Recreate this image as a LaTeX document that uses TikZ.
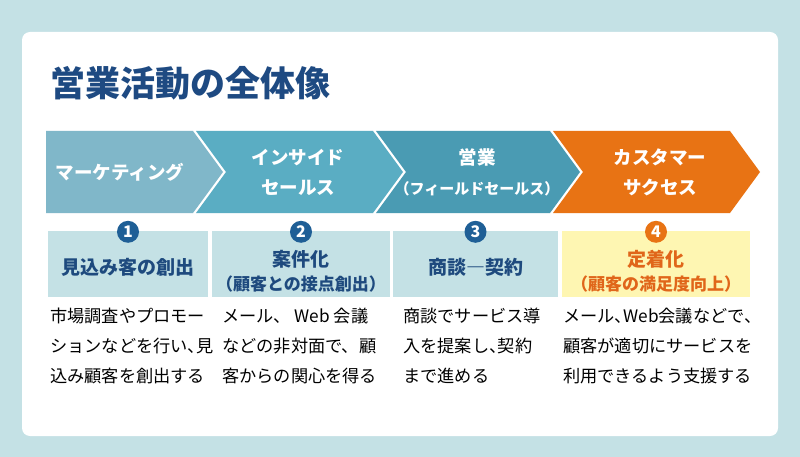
\documentclass[tikz,border=0pt]{standalone}
\usepackage{fontspec}
\setmainfont{Noto Sans CJK JP}
\usetikzlibrary{calc}

\definecolor{bgteal}{HTML}{C4E1E5}
\definecolor{titleblue}{HTML}{1E4A82}
\definecolor{chevA}{HTML}{80B7C9}
\definecolor{chevB}{HTML}{5AADC3}
\definecolor{chevC}{HTML}{4A9BB3}
\definecolor{chevD}{HTML}{E87314}
\definecolor{numblue}{HTML}{1F5F96}
\definecolor{boxblue}{HTML}{C4E1E5}
\definecolor{boxyellow}{HTML}{FEF6B2}
\definecolor{goalblue}{HTML}{1E4A7E}
\definecolor{goalorange}{HTML}{E0661A}

% half-width comma
\newcommand{\hcomma}{\makebox[0.5em][l]{、}}

\begin{document}
\begin{tikzpicture}[x=1pt,y=-1pt,
	stage/.style={text=white, inner sep=0pt, align=center, font=\fontsize{18.5}{30}\selectfont\bfseries},
	stepnum/.style={circle, fill=#1, text=white, minimum size=22pt, inner sep=0pt, font=\fontsize{16}{16}\selectfont\bfseries},
	stepbox/.style={fill=#1, minimum height=66pt, inner sep=0pt},
	goal/.style={text=#1, inner sep=0pt, align=center, font=\fontsize{19}{24}\selectfont\bfseries},
	note/.style={anchor=north west, inner sep=0pt, align=left, font=\fontsize{17.2}{30}\selectfont}]
	\def\ytop{131};
	\def\ybot{213};
	\def\ymid{172};
	\def\tip{30};

	% background and card
	\useasboundingbox (0,0) rectangle (800,457);
	\fill[bgteal] (0,0) rectangle (800,457);
	\fill[white, rounded corners=8pt] (22,32) rectangle (778,436);

	\node[anchor=west, inner sep=0pt, text=titleblue, font=\fontsize{35}{35}\selectfont\bfseries] (title) at (50,83) {営業活動の全体像};

	% chevrons
	\begin{scope}
		\fill[chevA] (46,\ytop) -- (193,\ytop) -- (193+\tip,\ymid) -- (193,\ybot) -- (46,\ybot) -- cycle;
		\foreach \xl/\xr/\col in {196/373/chevB, 376/550/chevC, 553/730/chevD}
			\fill[\col] (\xl,\ytop) -- (\xr,\ytop) -- (\xr+\tip,\ymid) -- (\xr,\ybot) -- (\xl,\ybot) -- (\xl+\tip,\ymid) -- cycle;
	\end{scope}

	\node[stage] (marketing) at (120,\ymid) {マーケティング};
	\node[stage] (inside) at (298,\ymid) {インサイド\\セールス};
	\node[stage] (field) at (477,\ymid) {営業\\{\fontsize{15}{30}\selectfont （フィールドセールス）}};
	\node[stage] (success) at (660,\ymid) {カスタマー\\サクセス};

	% step boxes
	\node[stepbox=boxblue, minimum width=160pt] (box1) at (128,264) {};
	\node[stepbox=boxblue, minimum width=178pt] (box2) at (301,264) {};
	\node[stepbox=boxblue, minimum width=165pt] (box3) at (475.5,264) {};
	\node[stepbox=boxyellow, minimum width=188pt] (box4) at (656,264) {};

	\node[stepnum=numblue] (num1) at ($(box1.north)+(0,1)$) {1};
	\node[stepnum=numblue] (num2) at ($(box2.north)+(0,1)$) {2};
	\node[stepnum=numblue] (num3) at ($(box3.north)+(0,1)$) {3};
	\node[stepnum=chevD] (num4) at ($(box4.north)+(0,1)$) {4};

	\node[goal=goalblue] (goal1) at ($(box1.center)+(0,3)$) {見込み客の創出};
	\node[goal=goalblue] (goal2) at ($(box2.center)+(0,7)$) {案件化\\{\fontsize{17}{24}\selectfont （顧客との接点創出）}};
	\node[goal=goalblue] (goal3) at ($(box3.center)+(0,3)$) {商談―契約};
	\node[goal=goalorange] (goal4) at ($(box4.center)+(0,7)$) {定着化\\{\fontsize{17}{24}\selectfont （顧客の満足度向上）}};

	% descriptions
	\node[note] (note1) at (50,308) {市場調査やプロモー\\ションなどを行い\hcomma 見\\込み顧客を創出する};
	\node[note] (note2) at (222,308) {メール、 Web 会議\\などの非対面で、顧\\客からの関心を得る};
	\node[note] (note3) at (403,308) {商談でサービス導\\入を提案し\hcomma 契約\\まで進める};
	\node[note] (note4) at (563,308) {メール\hcomma Web会議などで\hcomma \\顧客が適切にサービスを\\利用できるよう支援する};
\end{tikzpicture}
\end{document}
